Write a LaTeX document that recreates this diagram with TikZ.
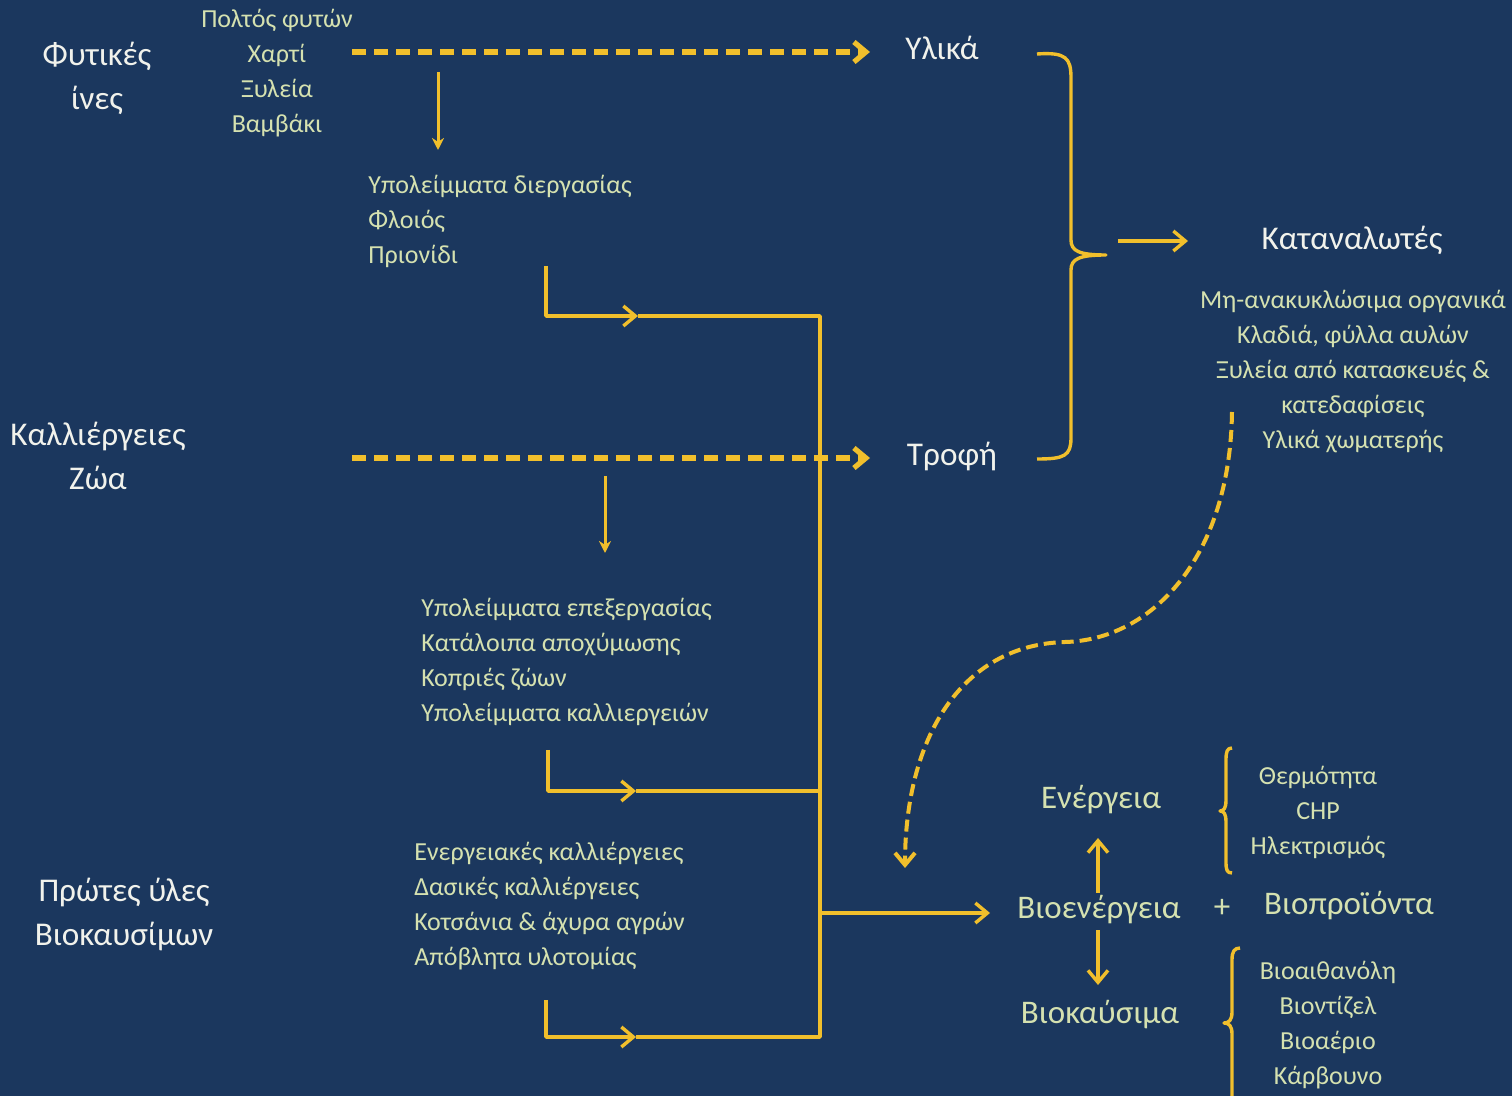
\documentclass[tikz,border=0pt]{standalone}
\usepackage{fontspec}
\setmainfont{Carlito}
\usetikzlibrary{arrows.meta,positioning}
\definecolor{navy}{HTML}{1B375E}
\definecolor{gold}{HTML}{F1BF2C}
\definecolor{pale}{HTML}{D5E1B0}
\definecolor{snow}{HTML}{F1F2EC}

\begin{document}
\begin{tikzpicture}[x=0.5pt,y=-0.5pt,>={Straight Barb[length=6pt,width=10pt]},line join=round,
        head/.style={text=snow,font=\fontsize{16.6}{22}\selectfont,align=center,inner sep=0pt},
        item/.style={text=pale,font=\fontsize{13}{17.5}\selectfont,inner sep=0pt},
        prod/.style={text=pale,font=\fontsize{16.5}{20}\selectfont,inner sep=0pt},
        flow/.style={gold,line width=1.7pt},
        dflow/.style={gold,line width=2.6pt,dash pattern=on 7pt off 4pt},
        drop/.style={gold,line width=1.5pt,-{Stealth[length=6pt,width=6pt]}}]
        \fill[navy] (0,0) rectangle (1512,1096);
        \useasboundingbox (0,0) rectangle (1512,1096);

        \node[head] (fibres) at (97,78) {Φυτικές\\ίνες};
        \node[head] (crops) at (98,456) {Καλλιέργειες\\Ζώα};
        \node[head] (feed) at (124,914) {Πρώτες ύλες\\Βιοκαυσίμων};

        \node[item,align=center] (pulp) at (277,73) {Πολτός φυτών\\Χαρτί\\Ξυλεία\\Βαμβάκι};
        \node[item,align=left,anchor=west] (proc) at (368,221) {Υπολείμματα διεργασίας\\Φλοιός\\Πριονίδι};
        \node[item,align=left,anchor=west] (agri) at (421,662) {Υπολείμματα επεξεργασίας\\Κατάλοιπα αποχύμωσης\\Κοπριές ζώων\\Υπολείμματα καλλιεργειών};
        \node[item,align=left,anchor=west] (forest) at (414,906) {Ενεργειακές καλλιέργειες\\Δασικές καλλιέργειες\\Κοτσάνια \& άχυρα αγρών\\Απόβλητα υλοτομίας};

        \node[head] (mat) at (942,48) {Υλικά};
        \node[head] (food) at (952,456) {Τροφή};
        \node[head] (cons) at (1352,240) {Καταναλωτές};
        \node[item,align=center] (waste) at (1353,372) {Μη-ανακυκλώσιμα οργανικά\\Κλαδιά, φύλλα αυλών\\Ξυλεία από κατασκευές \&\\κατεδαφίσεις\\Υλικά χωματερής};

        \node[prod] (ener) at (1101,800) {Ενέργεια};
        \node[prod] (bioen) at (1099,910) {Βιοενέργεια};
        \node[prod] (biof) at (1100,1015) {Βιοκαύσιμα};
        \node[prod] (plus) at (1222,908) {+};
        \node[prod] (biop) at (1349,906) {Βιοπροϊόντα};
        \node[item,align=center] (heat) at (1318,812) {Θερμότητα\\CHP\\Ηλεκτρισμός};
        \node[item,align=center] (fuels) at (1328,1025) {Βιοαιθανόλη\\Βιοντίζελ\\Βιοαέριο\\Κάρβουνο};

        \coordinate (d1) at (352,52);
        \coordinate (d2) at (870,52);
        \coordinate (d3) at (352,458);
        \coordinate (d4) at (870,458);
        \draw[dflow,->] (d1) -- (d2);
        \draw[dflow,->] (d3) -- (d4);

        \coordinate (p1) at (438,72);
        \coordinate (p2) at (438,150);
        \coordinate (c1) at (605,476);
        \coordinate (c2) at (605,553);
        \draw[drop] (p1) -- (p2);
        \draw[drop] (c1) -- (c2);

        \coordinate (e1) at (546,266);
        \coordinate (m1) at (638,316);
        \coordinate (j1) at (820,316);
        \coordinate (e2) at (548,750);
        \coordinate (m2) at (636,791);
        \coordinate (j2) at (820,791);
        \coordinate (e3) at (546,1000);
        \coordinate (m3) at (636,1037);
        \coordinate (j3) at (820,1037);
        \coordinate (jo) at (820,913);
        \coordinate (bo) at (990,913);
        \draw[flow,->] (e1) |- (m1);
        \draw[flow,->] (e2) |- (m2);
        \draw[flow,->] (e3) |- (m3);
        \draw[flow] (m1) -- (j1) -- (j3) -- (m3);
        \draw[flow] (m2) -- (j2);
        \draw[flow,->] (jo) -- (bo);

        \coordinate (u0) at (1098,893);
        \coordinate (u1) at (1098,838);
        \coordinate (v0) at (1098,930);
        \coordinate (v1) at (1098,985);
        \draw[flow,->] (u0) -- (u1);
        \draw[flow,->] (v0) -- (v1);

        \coordinate (k0) at (1118,241);
        \coordinate (k1) at (1188,241);
        \draw[flow,->] (k0) -- (k1);

        \coordinate (s1) at (1232,412);
        \coordinate (s2) at (1065,642);
        \coordinate (s3) at (905,868);
        \draw[gold,line width=2pt,dash pattern=on 6pt off 3pt,->] (s1) .. controls (1230,560) and (1150,640) .. (s2) .. controls (960,645) and (905,740) .. (s3);

        \draw[flow] (1037,54) .. controls (1066,52) and (1071,58) .. (1071,78) -- (1071,240)
                .. controls (1071,251) and (1079,255) .. (1106,255)
                .. controls (1079,255) and (1071,259) .. (1071,270) -- (1071,438)
                .. controls (1071,456) and (1064,459) .. (1037,459);
        \draw[flow] (1232,748) .. controls (1227,748) and (1226,752) .. (1226,760) -- (1226,800)
                .. controls (1226,808) and (1224,811) .. (1220,811)
                .. controls (1224,811) and (1226,814) .. (1226,822) -- (1226,862)
                .. controls (1226,870) and (1227,873) .. (1232,873);
        \draw[flow] (1240,948) .. controls (1234,948) and (1232,952) .. (1232,960) -- (1232,1012)
                .. controls (1232,1020) and (1229,1023) .. (1224,1023)
                .. controls (1229,1023) and (1232,1026) .. (1232,1034) -- (1232,1100);
\end{tikzpicture}
\end{document}
